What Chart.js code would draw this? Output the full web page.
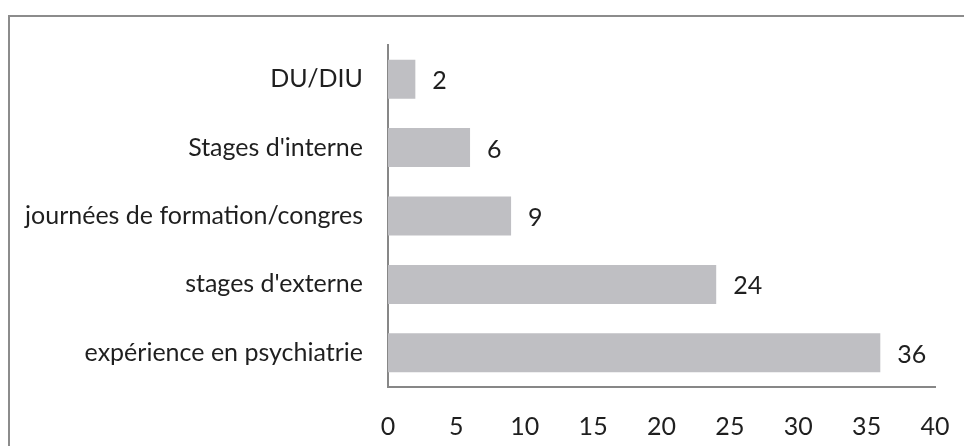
<!DOCTYPE html>
<html>
<head>
<meta charset="utf-8">
<script src="https://cdn.jsdelivr.net/npm/chart.js@4"></script>
<style>
    body { margin: 0; background: #fff; }
    .frame {
        position: absolute; left: 8px; top: 15px;
        width: 1000px; height: 500px;
        border: 2px solid #8c8c8c;
    }
    .wrap { position: absolute; left: 0; top: 0; width: 964px; height: 446px; }
</style>
</head>
<body>
<div class="frame"></div>
<div class="wrap"><canvas id="chart" width="964" height="446"></canvas></div>
<script>
const categories = ['DU/DIU', "Stages d'interne", 'journées de formation/congres', "stages d'externe", 'expérience en psychiatrie'];
const values = [2, 6, 9, 24, 36];
const xTicks = [0, 5, 10, 15, 20, 25, 30, 35, 40];

const fontSize = 25;

// value labels to the right of each bar
const barLabels = {
    id: 'barLabels',
    afterDatasetsDraw(chart) {
        const ctx = chart.ctx;
        const meta = chart.getDatasetMeta(0);
        ctx.save();
        ctx.font = fontSize + 'px Lato';
        ctx.fillStyle = '#1f1f1f';
        ctx.textAlign = 'left';
        ctx.textBaseline = 'middle';
        meta.data.forEach((bar, i) => {
            ctx.fillText(String(values[i]), bar.x + 17, bar.y + 2);
        });
        ctx.restore();
    }
};

new Chart(document.getElementById('chart'), {
    type: 'bar',
    data: {
        labels: categories,
        datasets: [{
            data: values,
            backgroundColor: '#bfbfc3',
            borderWidth: 0,
            barPercentage: 0.57,
            categoryPercentage: 1
        }]
    },
    options: {
        indexAxis: 'y',
        responsive: false,
        animation: false,
        layout: { padding: { top: 45, right: 29, left: 0, bottom: 0 } },
        plugins: {
            legend: { display: false },
            tooltip: { enabled: false }
        },
        scales: {
            x: {
                min: 0,
                max: 40,
                afterBuildTicks: (scale) => { scale.ticks = xTicks.map(v => ({ value: v })); },
                grid: { display: false, drawTicks: false },
                border: { display: true, color: '#878787', width: 2 },
                ticks: { color: '#1f1f1f', font: { family: 'Lato', size: fontSize }, padding: 25, maxRotation: 0 },
                afterFit: (scale) => {
                    scale.height = 59;
                    scale.paddingLeft = 0;
                    scale.paddingRight = 0;
                }
            },
            y: {
                grid: { display: false, drawTicks: false },
                border: { display: true, color: '#878787', width: 2 },
                ticks: { color: '#1f1f1f', font: { family: 'Lato', size: fontSize }, padding: 25 },
                afterFit: (scale) => { scale.width = 388; }
            }
        }
    },
    plugins: [barLabels]
});
</script>
</body>
</html>
